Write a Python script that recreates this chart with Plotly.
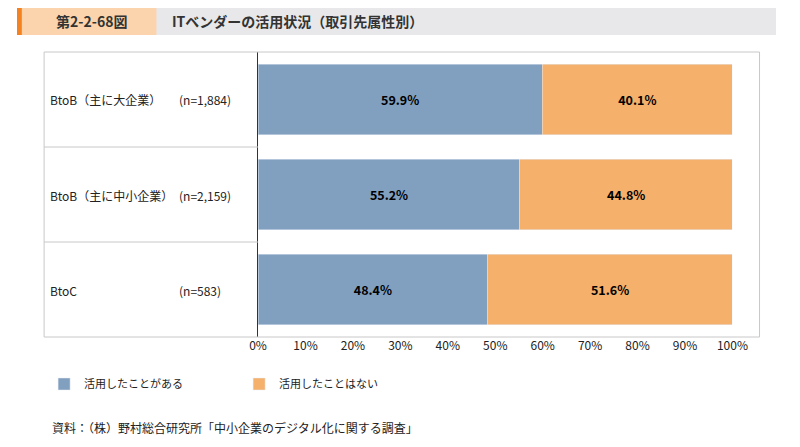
import plotly.graph_objects as go

cats = ["BtoB（主に大企業）", "BtoB（主に中小企業）", "BtoC"]
ns = ["(n=1,884)", "(n=2,159)", "(n=583)"]
used = [59.9, 55.2, 48.4]
notused = [40.1, 44.8, 51.6]
ticks = [0, 10, 20, 30, 40, 50, 60, 70, 80, 90, 100]

W, H = 784, 431
px = lambda x: (x - 8) / W
py = lambda y: 1 - (y - 8) / H
F = "Noto Sans CJK JP"

fig = go.Figure()
fig.add_bar(y=cats, x=used, orientation="h", name="活用したことがある", marker_color="#819fbf",
            text=[f"<b>{v:.1f}%</b>" for v in used], textposition="inside", insidetextanchor="middle",
            textfont=dict(color="black", size=12.5, family=F), width=0.74)
fig.add_bar(y=cats, x=notused, orientation="h", name="活用したことはない", marker_color="#f5b06b",
            text=[f"<b>{v:.1f}%</b>" for v in notused], textposition="inside", insidetextanchor="middle",
            textfont=dict(color="black", size=12.5, family=F), width=0.74)

shapes = [
    dict(type="rect", xref="paper", yref="paper", x0=px(8), x1=px(792), y0=py(35), y1=py(8), fillcolor="#e8e8ea", line_width=0),
    dict(type="rect", xref="paper", yref="paper", x0=px(13), x1=px(152), y0=py(35), y1=py(8), fillcolor="#fbd3ac", line_width=0),
    dict(type="rect", xref="paper", yref="paper", x0=px(8), x1=px(13), y0=py(35), y1=py(8), fillcolor="#f58220", line_width=0),
    dict(type="rect", xref="paper", yref="paper", x0=px(36), x1=px(775), y0=py(337), y1=py(52), line=dict(color="#c8c8c8", width=1)),
    dict(type="line", xref="paper", yref="paper", x0=px(36), x1=px(257), y0=py(147), y1=py(147), line=dict(color="#c8c8c8", width=1)),
    dict(type="line", xref="paper", yref="paper", x0=px(36), x1=px(257), y0=py(242), y1=py(242), line=dict(color="#c8c8c8", width=1)),
]
ann = [
    dict(x=px(46), y=py(21), text="<b>第2-2-68図</b>", font=dict(size=14, color="#333", family=F)),
    dict(x=px(166), y=py(21), text="<b>ITベンダーの活用状況（取引先属性別）</b>", font=dict(size=14, color="#333", family=F)),
    dict(x=px(42), y=py(427), text="資料：（株）野村総合研究所「中小企業のデジタル化に関する調査」", font=dict(size=12, color="#222", family=F)),
]
for c, n, yy in zip(cats, ns, [100, 195, 290]):
    ann.append(dict(x=px(40), y=py(yy), text=c, font=dict(size=12, color="#222", family=F)))
    ann.append(dict(x=px(173), y=py(yy), text=n, font=dict(size=12, color="#222", family=F)))
for a in ann:
    a.update(xref="paper", yref="paper", xanchor="left", yanchor="middle", showarrow=False)

fig.update_layout(
    width=W, height=H, margin=dict(l=0, r=0, t=0, b=0), autosize=False,
    paper_bgcolor="white", plot_bgcolor="rgba(0,0,0,0)", barmode="stack",
    font=dict(family=F, size=12, color="#222"),
    xaxis=dict(domain=[px(257), px(747)], range=[0, 100], tickvals=ticks,
               ticktext=[f"{t}%" for t in ticks], showgrid=False, zeroline=False,
               ticks="", tickfont=dict(size=12, color="#222")),
    yaxis=dict(domain=[py(337), py(52)], showticklabels=False, range=[2.5, -0.5], autorange=False,
               showgrid=False, zeroline=False, showline=True, linecolor="#333", linewidth=1.2),
    legend=dict(orientation="h", x=px(36), y=py(384), yanchor="middle", xanchor="left",
                entrywidth=150, font=dict(size=11, family=F), traceorder="normal"),
    shapes=shapes, annotations=ann, bargap=0.26,
)
fig.write_html("out.html")
